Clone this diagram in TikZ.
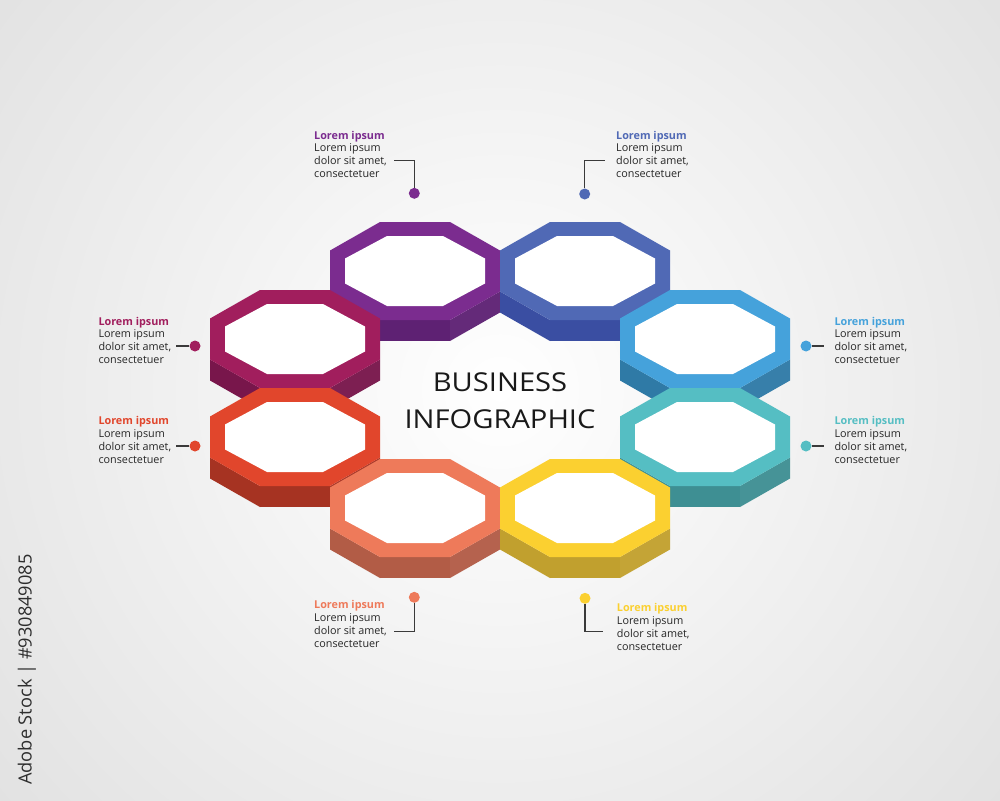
\documentclass[tikz,border=0pt]{standalone}
\usepackage{fontspec}
\setmainfont{Open Sans}
\definecolor{bgout}{HTML}{E2E2E2}
\definecolor{txt}{HTML}{262626}
\definecolor{linec}{HTML}{3A3A3A}
\definecolor{cpurple}{HTML}{7B2C8F}\definecolor{spurple}{HTML}{5E2173}
\definecolor{cblue}{HTML}{5069B5}\definecolor{sblue}{HTML}{3A4EA2}
\definecolor{clblue}{HTML}{45A2DB}\definecolor{slblue}{HTML}{2F7AA6}
\definecolor{cteal}{HTML}{55BEC3}\definecolor{steal}{HTML}{3E8F93}
\definecolor{cyellow}{HTML}{FBD030}\definecolor{syellow}{HTML}{C1A02E}
\definecolor{csalmon}{HTML}{EE7A5A}\definecolor{ssalmon}{HTML}{B25C46}
\definecolor{cred}{HTML}{E1462C}\definecolor{sred}{HTML}{A63322}
\definecolor{cmag}{HTML}{A11E5D}\definecolor{smag}{HTML}{78164B}
\newcommand\octa[4]{%
  \begin{scope}[shift={(#1,#2)}]
    \fill[#4] (-85,20.5) -- (-35,49) -- (-35,70) -- (-85,41.5) -- cycle;
    \fill[#4] (-35,49) -- (35,49) -- (35,70) -- (-35,70) -- cycle;
    \fill[#4!96!white] (35,49) -- (85,20.5) -- (85,41.5) -- (35,70) -- cycle;
    \fill[#3] (-35,-49) -- (35,-49) -- (85,-20.5) -- (85,20.5) -- (35,49) -- (-35,49) -- (-85,20.5) -- (-85,-20.5) -- cycle;
    \fill[white] (-28,-35) -- (28,-35) -- (70,-12.5) -- (70,12.5) -- (28,35) -- (-28,35) -- (-70,12.5) -- (-70,-12.5) -- cycle;
  \end{scope}}
\newcommand\lbltext[1]{\vtop{\hbox{\bfseries\color{#1}Lorem ipsum}\hbox{Lorem ipsum}\hbox{dolor sit amet,}\hbox{consectetuer}}}
\begin{document}
\begin{tikzpicture}[x=1pt,y=-1pt,
  lbl/.style={anchor=base west, inner sep=0pt, text=txt, font=\fontsize{10.8}{12.9}\selectfont},
  dot/.style={circle, fill=#1, minimum size=11pt, inner sep=0pt},
  conn/.style={draw=linec, line width=1.1pt},
  ttl/.style={anchor=base, inner sep=0pt, xscale=1.12, text=black!90, font=\fontsize{26}{30}\selectfont}]
\useasboundingbox (0,0) rectangle (1000,800);
\shade[inner color=white, outer color=bgout] (500,390) circle (650);
% octagons (back to front)
\octa{415}{271}{cpurple}{spurple}
\octa{585}{271}{cblue}{sblue}
\octa{295}{339}{cmag}{smag}
\octa{705}{339}{clblue}{slblue}
\octa{295}{437}{cred}{sred}
\octa{705}{437}{cteal}{steal}
\octa{415}{508}{csalmon}{ssalmon}
\octa{585}{508}{cyellow}{syellow}
% title
\node[ttl] (t1) at (500,391) {BUSINESS};
\node[ttl] (t2) at (500,428) {INFOGRAPHIC};
% labels
\node[lbl] (l1) at (314,139) {\lbltext{cpurple}};
\node[lbl] (l2) at (616,139) {\lbltext{cblue}};
\node[lbl] (l3) at (98.3,325) {\lbltext{cmag}};
\node[lbl] (l4) at (98.3,424.3) {\lbltext{cred}};
\node[lbl] (l5) at (834.3,325) {\lbltext{clblue}};
\node[lbl] (l6) at (834.3,424.3) {\lbltext{cteal}};
\node[lbl] (l7) at (314,608.3) {\lbltext{csalmon}};
\node[lbl] (l8) at (616.7,611.7) {\lbltext{cyellow}};
% dots and connectors
\coordinate (e1) at (394,160.5);
\coordinate (e2) at (605,160.5);
\coordinate (e3) at (176,346);
\coordinate (e4) at (176,446);
\coordinate (e5) at (824.3,346);
\coordinate (e6) at (824.3,446);
\coordinate (e7) at (394,631.7);
\coordinate (e8) at (603.3,631.7);
\node[dot=cpurple] (d1) at (414.3,193.3) {};
\node[dot=cblue] (d2) at (584.7,194) {};
\node[dot=cmag] (d3) at (195,346) {};
\node[dot=cred] (d4) at (195,446) {};
\node[dot=clblue] (d5) at (806,346) {};
\node[dot=cteal] (d6) at (806,446) {};
\node[dot=csalmon] (d7) at (414.3,597.3) {};
\node[dot=cyellow] (d8) at (585,598.3) {};
\draw[conn] (d1) |- (e1);
\draw[conn] (d2) |- (e2);
\draw[conn] (d3) -- (e3);
\draw[conn] (d4) -- (e4);
\draw[conn] (d5) -- (e5);
\draw[conn] (d6) -- (e6);
\draw[conn] (d7) |- (e7);
\draw[conn] (d8) |- (e8);
% side credit
\node[anchor=base west, rotate=90, inner sep=0pt, text=black!82, font=\fontsize{18.2}{22}\selectfont] (wm) at (31.5,785) {Adobe Stock | \#930849085};
\end{tikzpicture}
\end{document}
